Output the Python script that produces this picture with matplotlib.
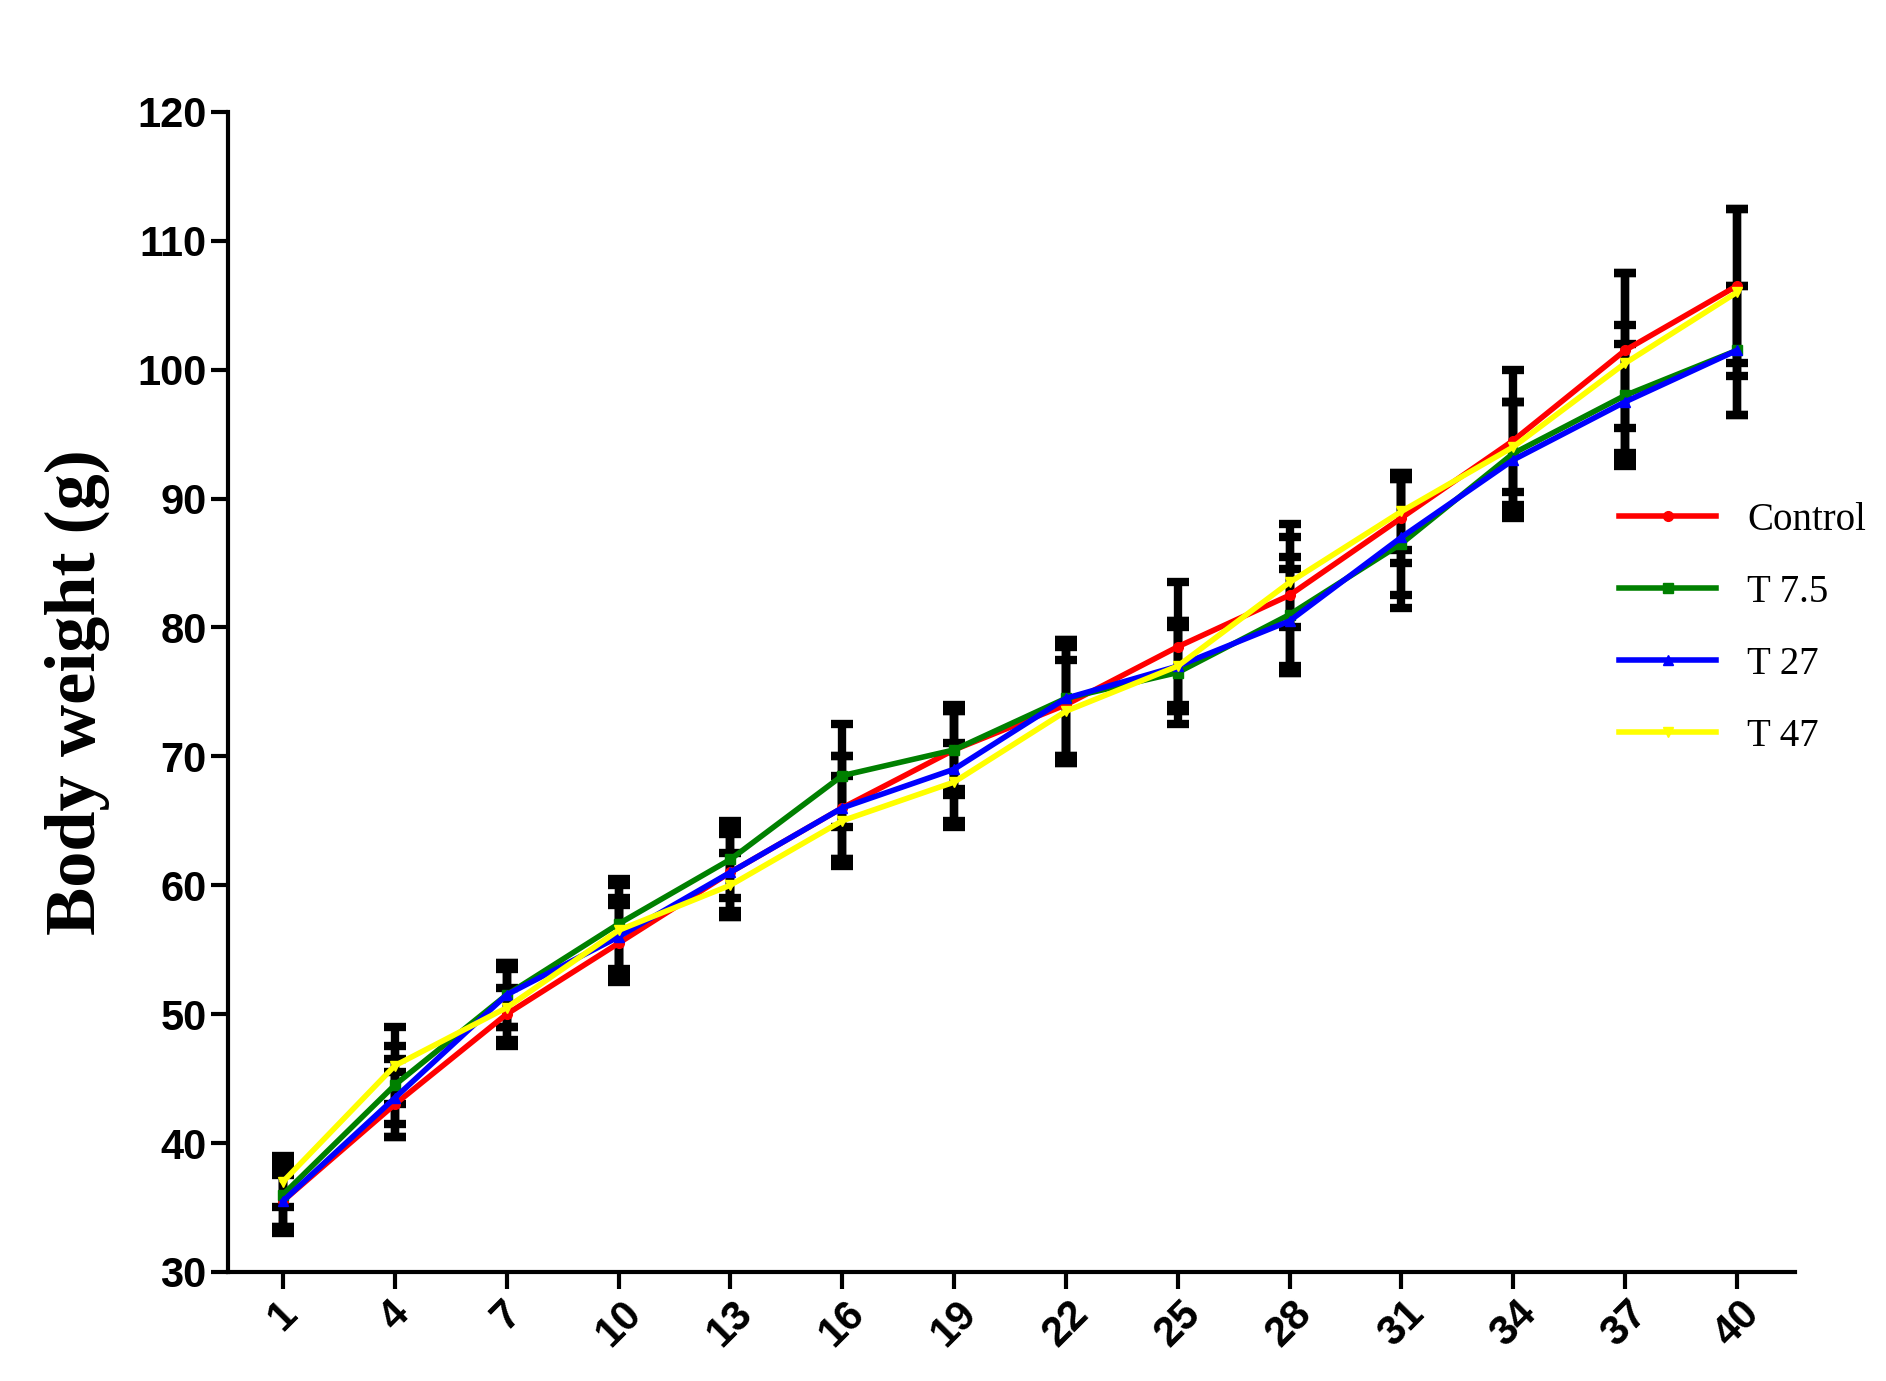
import matplotlib

matplotlib.use("Agg")
import matplotlib.pyplot as plt

days = [1, 4, 7, 10, 13, 16, 19, 22, 25, 28, 31, 34, 37, 40]

control = [35.5, 43.0, 50.0, 55.5, 61.0, 66.0, 70.5, 74.0, 78.5, 82.5, 88.5, 94.5, 101.5, 106.5]
control_err = [2.0, 2.5, 2.0, 3.0, 3.0, 4.0, 3.5, 4.5, 5.0, 5.5, 3.5, 5.5, 6.0, 6.0]
t75 = [36.0, 44.5, 51.5, 57.0, 62.0, 68.5, 70.5, 74.5, 76.5, 81.0, 86.5, 93.5, 98.0, 101.5]
t75_err = [2.5, 3.0, 2.5, 3.5, 3.0, 4.0, 3.0, 4.5, 4.0, 4.5, 5.0, 4.0, 5.5, 5.0]
t27 = [35.5, 43.5, 51.5, 56.0, 61.0, 66.0, 69.0, 74.5, 77.0, 80.5, 87.0, 93.0, 97.5, 101.5]
t27_err = [2.5, 3.0, 2.5, 3.0, 3.5, 4.0, 4.5, 4.5, 3.5, 4.0, 4.5, 4.5, 4.5, 5.0]
t47 = [37.0, 46.0, 50.5, 56.5, 60.0, 65.0, 68.0, 73.5, 77.0, 83.5, 89.0, 94.0, 100.5, 106.0]
t47_err = [2.0, 3.0, 3.0, 3.5, 2.5, 3.5, 3.0, 4.0, 3.0, 3.5, 3.0, 3.5, 7.0, 6.5]

series = [
    ("Control", control, control_err, "red", "o"),
    ("T 7.5", t75, t75_err, "green", "s"),
    ("T 27", t27, t27_err, "blue", "^"),
    ("T 47", t47, t47_err, "yellow", "v"),
]

figure = plt.figure(figsize=(18.86, 13.81), dpi=100)
axis = figure.add_axes([0.121, 0.079, 0.831, 0.84])

for label, values, errors, color, marker in series:
    axis.errorbar(days, values, yerr=errors, fmt="none", ecolor="black",
                  elinewidth=6, capsize=8, capthick=6, zorder=2)
for label, values, errors, color, marker in series:
    axis.plot(days, values, color=color, linewidth=4, marker=marker,
              markersize=7, label=label, zorder=3)

axis.set_xlim(-0.47, 41.57)
axis.set_ylim(30, 120)
axis.set_xticks(days)
axis.set_yticks(range(30, 121, 10))
axis.spines["top"].set_visible(False)
axis.spines["right"].set_visible(False)
axis.spines["left"].set_linewidth(3)
axis.spines["bottom"].set_linewidth(3)
axis.tick_params(direction="out", length=12, width=3)
for tick in axis.get_xticklabels():
    tick.set_fontfamily("Liberation Sans")
    tick.set_fontweight("bold")
    tick.set_fontsize(30)
    tick.set_rotation(45)
for tick in axis.get_yticklabels():
    tick.set_fontfamily("Liberation Sans")
    tick.set_fontweight("bold")
    tick.set_fontsize(30)

axis.set_ylabel("Body weight (g)", fontfamily="Liberation Serif",
                fontweight="bold", fontsize=52, labelpad=20)

legend = axis.legend(loc="center left", bbox_to_anchor=(0.865, 0.555),
                     frameon=False, prop={"family": "Liberation Serif", "size": 28},
                     handlelength=2.5, labelspacing=0.9)

figure.savefig("out.png", dpi=100)
plt.close(figure)
